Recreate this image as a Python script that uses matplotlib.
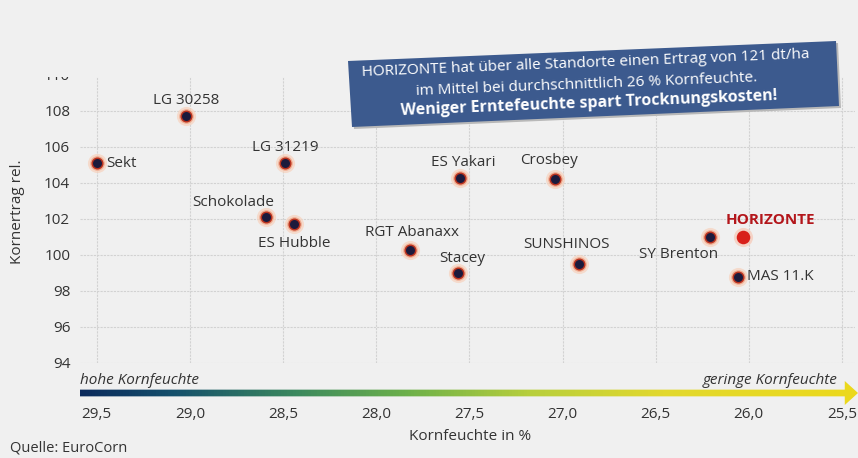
import numpy as np
import matplotlib
matplotlib.use("Agg")
import matplotlib.pyplot as plt
from matplotlib.colors import LinearSegmentedColormap
from matplotlib.patches import Polygon, Rectangle

plt.rcParams['font.family'] = ['Open Sans', 'DejaVu Sans']

# Daten: Kornfeuchte (%) und Kornertrag rel.
sorten = ["Sekt", "LG 30258", "LG 31219", "Schokolade", "ES Hubble", "RGT Abanaxx",
          "ES Yakari", "Stacey", "Crosbey", "SUNSHINOS", "SY Brenton", "HORIZONTE", "MAS 11.K"]
feuchte = [29.5, 29.02, 28.49, 28.59, 28.44, 27.82, 27.55, 27.56, 27.04, 26.91, 26.21, 26.03, 26.06]
ertrag = [105.1, 107.7, 105.1, 102.1, 101.7, 100.3, 104.3, 99.0, 104.2, 99.5, 101.0, 101.0, 98.8]

x_ticks = [29.5, 29.0, 28.5, 28.0, 27.5, 27.0, 26.5, 26.0, 25.5]
x_ticklabels = ["29,5", "29,0", "28,5", "28,0", "27,5", "27,0", "26,5", "26,0", "25,5"]
y_ticks = [94, 96, 98, 100, 102, 104, 106, 108, 110]

# Beschriftungsversatz in Pixel (dx, dy, ha)
offsets = {
    "Sekt": (9, 0, "left"),
    "LG 30258": (0, 16, "center"),
    "LG 31219": (0, 16, "center"),
    "Schokolade": (-33, 15, "center"),
    "ES Hubble": (0, -19, "center"),
    "RGT Abanaxx": (2, 17, "center"),
    "ES Yakari": (3, 15, "center"),
    "Stacey": (4, 15, "center"),
    "Crosbey": (-6, 19, "center"),
    "SUNSHINOS": (-13, 20, "center"),
    "SY Brenton": (-31, -17, "center"),
    "HORIZONTE": (27, 17, "center"),
    "MAS 11.K": (9, 0, "left"),
}

bg = "#f0f0f0"
txt = "#333333"
W, H = 858, 458
fig = plt.figure(figsize=(W / 100, H / 100), dpi=100, facecolor=bg)

def px(x0, y0, w, h):
    # Pixel-Box (von oben links) -> Figurkoordinaten
    return [x0 / W, 1 - (y0 + h) / H, w / W, h / H]

def fpt(x, y):
    return (x / W, 1 - y / H)

ax = fig.add_axes(px(80, 75, 775, 288))
ax.set_facecolor(bg)
ax.set_xlim(29.59, 25.43)
ax.set_ylim(94, 110)
for s in ax.spines.values():
    s.set_visible(False)
ax.set_xticks(x_ticks)
ax.set_xticklabels(x_ticklabels)
ax.set_yticks(y_ticks)
ax.tick_params(length=0, labelsize=11, colors=txt)
ax.tick_params(axis="x", pad=32)
ax.tick_params(axis="y", pad=7)
ax.grid(True, color="#d2d2d2", linewidth=0.8, linestyle=(0, (2, 1)))
ax.set_axisbelow(True)

dark = [i for i, s in enumerate(sorten) if s != "HORIZONTE"]
fx = [feuchte[i] for i in dark]
ey = [ertrag[i] for i in dark]
ax.scatter(fx, ey, s=190, color="#f7d2bd", alpha=0.7, linewidths=0, zorder=3)
ax.scatter(fx, ey, s=110, color="#f0a080", alpha=0.8, linewidths=0, zorder=3)
ax.scatter(fx, ey, s=75, color="#b8321f", linewidths=0, zorder=4)
ax.scatter(fx, ey, s=42, color="#1b1a3c", linewidths=0, zorder=5)
h = sorten.index("HORIZONTE")
ax.scatter([feuchte[h]], [ertrag[h]], s=190, color="#f7c8b5", alpha=0.7, linewidths=0, zorder=3)
ax.scatter([feuchte[h]], [ertrag[h]], s=95, color="#d8201a", linewidths=0, zorder=4)

for name, x, y in zip(sorten, feuchte, ertrag):
    dx, dy, ha = offsets[name]
    if name == "HORIZONTE":
        ax.annotate(name, (x, y), xytext=(dx, dy), textcoords="offset pixels",
                    ha=ha, va="center", fontsize=11, fontweight="bold", color="#b3161b", zorder=6)
    else:
        ax.annotate(name, (x, y), xytext=(dx, dy), textcoords="offset pixels",
                    ha=ha, va="center", fontsize=11, color=txt, zorder=6)

# obere Kante abdecken (110 abgeschnitten)
fig.patches.append(Rectangle((0, 1 - 77 / H), 1, 77 / H, transform=fig.transFigure,
                             facecolor=bg, edgecolor="none", zorder=5))

# Farbverlaufspfeil
cmap = LinearSegmentedColormap.from_list("kf", [
    (0.0, "#0b2a5c"), (0.12, "#15506c"), (0.28, "#3d8a5e"), (0.42, "#6cb04a"),
    (0.58, "#b8cf3c"), (0.75, "#e2d82e"), (1.0, "#ecd81c")])
ax2 = fig.add_axes(px(80, 381, 778, 24))
ax2.set_xlim(0, 1)
ax2.set_ylim(0, 1)
ax2.axis("off")
grad = np.linspace(0, 1, 256).reshape(1, -1)
img = ax2.imshow(grad, extent=[0, 1, 0, 1], aspect="auto", cmap=cmap)
arrow = Polygon([[0.0, 0.36], [0.983, 0.36], [0.983, 0.0], [1.0, 0.5],
                 [0.983, 1.0], [0.983, 0.64], [0.0, 0.64]], closed=True,
                transform=ax2.transAxes, facecolor="none", edgecolor="none")
ax2.add_patch(arrow)
img.set_clip_path(arrow)

fig.text(*fpt(80, 381), "hohe Kornfeuchte", style="italic", fontsize=11,
         color=txt, ha="left", va="center")
fig.text(*fpt(838, 381), "geringe Kornfeuchte", style="italic", fontsize=11,
         color=txt, ha="right", va="center")

fig.text(*fpt(470, 436), "Kornfeuchte in %", fontsize=11, color=txt,
         ha="center", va="center")
fig.text(*fpt(18, 212), "Kornertrag rel.", fontsize=11, color=txt,
         ha="center", va="center", rotation=90)
fig.text(*fpt(10, 448), "Quelle: EuroCorn", fontsize=10.5, color=txt,
         ha="left", va="center")

# Infokasten
rot = 2.3
fig.text(*fpt(586, 64), "HORIZONTE hat über alle Standorte einen Ertrag von 121 dt/ha",
         fontsize=11, color="white", ha="center", va="center", rotation=rot,
         rotation_mode="anchor", zorder=11)
fig.text(*fpt(587, 85), "im Mittel bei durchschnittlich 26 % Kornfeuchte.",
         fontsize=11, color="white", ha="center", va="center", rotation=rot,
         rotation_mode="anchor", zorder=11)
fig.text(*fpt(589, 103), "Weniger Erntefeuchte spart Trocknungskosten!",
         fontsize=11.5, fontweight="bold", color="white", ha="center", va="center",
         rotation=rot, rotation_mode="anchor", zorder=11)
ecken = [(348, 61), (836, 41), (839, 106), (352, 127)]
box = Polygon([fpt(x, y) for x, y in ecken], closed=True, transform=fig.transFigure,
              facecolor="#3c5a8e", edgecolor="none", zorder=10)
fig.patches.append(box)
shadow = Polygon([fpt(x + 2, y + 2) for x, y in ecken], closed=True, transform=fig.transFigure,
                 facecolor="#b8b8b8", edgecolor="none", zorder=9)
fig.patches.append(shadow)

fig.savefig("out.png", dpi=100, facecolor=bg)
